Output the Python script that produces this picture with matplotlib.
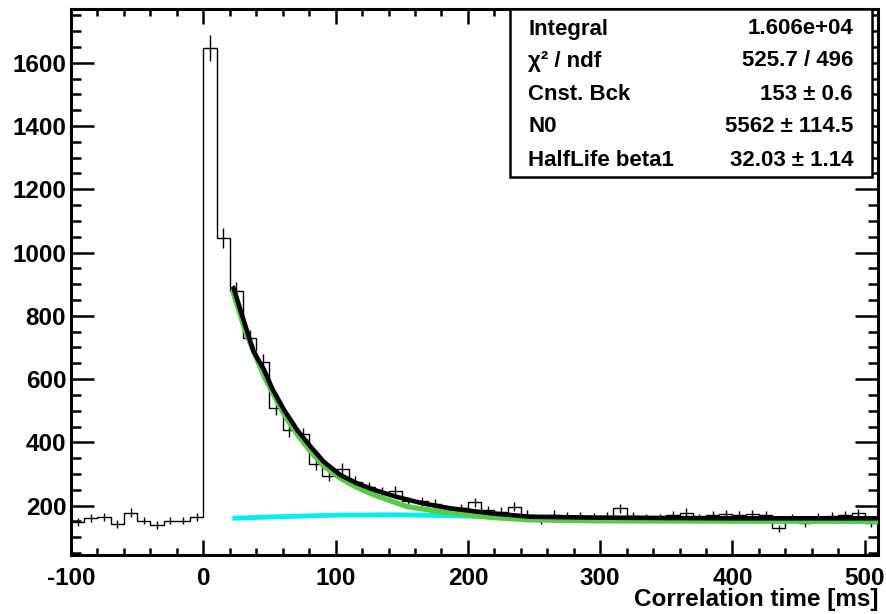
import numpy as np
import matplotlib
matplotlib.use("Agg")
import matplotlib.pyplot as plt
from matplotlib.patches import Rectangle

plt.rcParams['font.family'] = ['Liberation Sans', 'DejaVu Sans']
plt.rcParams['font.weight'] = 'bold'
plt.rcParams['axes.unicode_minus'] = False

# histogram: 10 ms bins from -100 to 510
bin_edges = np.arange(-100, 520, 10)
counts = [148, 160, 165, 142, 178, 153, 139, 153, 153, 165,
          1646, 1046, 877, 729, 655, 508, 439, 426, 331, 295,
          316, 276, 260, 244, 247, 214, 214, 206, 177, 192,
          210, 186, 181, 197, 172, 155, 172, 166, 167, 165,
          166, 192, 166, 161, 162, 170, 178, 162, 170, 173,
          170, 174, 170, 129, 160, 146, 165, 167, 171, 176,
          145]

# fit curves
fit_t = [22, 23, 32, 38, 46, 52, 61, 71, 81, 91, 103.5, 116, 129, 146, 166,
         186, 217, 247, 300, 350, 400, 450, 510]
fit_v = [893, 887, 766, 687, 629, 571, 503, 439, 387, 339, 297, 271, 250, 228,
         207, 192, 176, 165, 162, 161, 160, 160, 160]

green_t = [22, 32, 46, 61, 71, 81, 91, 103.5, 116, 129, 154, 179, 217, 247,
           300, 400, 510]
green_v = [880, 750, 608, 488, 425, 372, 325, 287, 258, 234, 197, 181, 163,
           155, 152, 151, 151]

cyan_t = [22, 50, 100, 150, 200, 250, 300, 400, 510]
cyan_v = [160, 164, 170, 171, 167, 161, 157, 152, 149]

stat_names = ["Integral", "χ² / ndf", "Cnst. Bck", "N0", "HalfLife beta1"]
stat_vals = ["1.606e+04", "525.7 / 496", "153 ± 0.6", "5562 ± 114.5", "32.03 ± 1.14"]

W, H = 886, 614
fig = plt.figure(figsize=(W / 100, H / 100), dpi=100)
ax = fig.add_axes([71 / W, 1 - 555 / H, (878 - 71) / W, (555 - 9) / H])

counts = np.array(counts)
centers = 0.5 * (bin_edges[:-1] + bin_edges[1:])
ax.stairs(counts, bin_edges, color='black', lw=1.0, zorder=2)
ax.vlines(centers, counts - np.sqrt(counts), counts + np.sqrt(counts),
          color='black', lw=1.0, zorder=2)

ax.plot(cyan_t, cyan_v, color='#00eeee', lw=3.5, zorder=3, solid_capstyle='butt')
ax.plot(green_t, green_v, color='#55cc44', lw=3.8, zorder=4, solid_capstyle='butt')
ax.plot(fit_t, fit_v, color='black', lw=3.3, zorder=5, solid_capstyle='butt')

ax.set_xlim(-100, 510)
ax.set_ylim(44, 1770)
ax.set_xticks(np.arange(-100, 501, 100))
ax.set_xticks(np.arange(-100, 511, 20), minor=True)
ax.set_yticks(np.arange(200, 1601, 200))
ax.set_yticks(np.arange(50, 1770, 50), minor=True)

for s in ax.spines.values():
    s.set_linewidth(2.2)
ax.tick_params(which='both', direction='in', top=True, right=True, width=1.8)
ax.tick_params(axis='y', which='major', length=16.5, labelsize=17.5, pad=3.5)
ax.tick_params(axis='y', which='minor', length=7.5)
ax.tick_params(axis='x', which='major', length=10.8, labelsize=17.5, pad=8.5)
ax.tick_params(axis='x', which='minor', length=5)
for lab in ax.get_xticklabels() + ax.get_yticklabels():
    lab.set_fontweight('bold')

fig.text(878 / W, 1 - 606 / H, "Correlation time [ms]", ha='right', va='baseline',
         fontsize=17.5, fontweight='bold')

# stats box
bx0, by0, bx1, by1 = 510, 9, 872, 177
fig.patches.append(Rectangle((bx0 / W, 1 - by1 / H), (bx1 - bx0) / W, (by1 - by0) / H,
                             transform=fig.transFigure, facecolor='white',
                             edgecolor='black', lw=1.8, zorder=10))
row_y = [29, 61, 94, 127, 160]
for name, val, yy in zip(stat_names, stat_vals, row_y):
    fig.text(528 / W, 1 - yy / H, name, ha='left', va='center', fontsize=16,
             fontweight='bold', zorder=11)
    fig.text(853 / W, 1 - yy / H, val, ha='right', va='center', fontsize=16,
             fontweight='bold', zorder=11)

fig.savefig("out.png", dpi=100)
